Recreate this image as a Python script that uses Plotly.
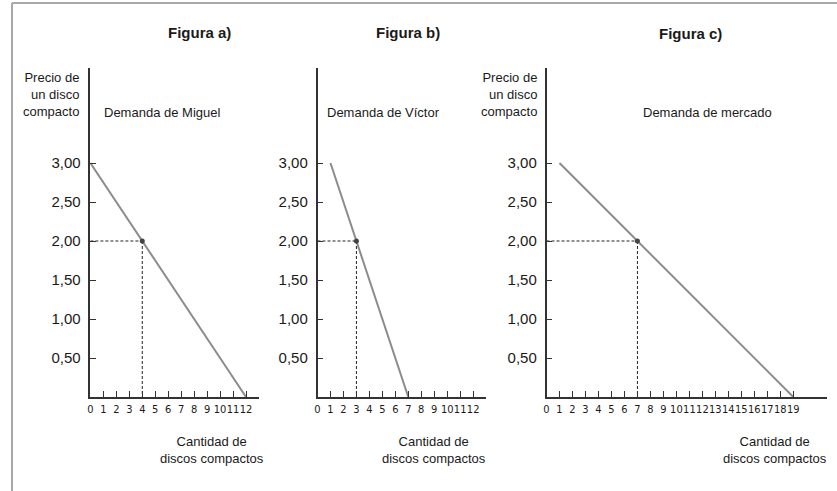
import plotly.graph_objects as go

# ---------------- data ----------------
prices = [3.0, 2.0, 0.0]
miguel_qty = [0, 4, 12]
victor_qty = [1, 3, 7]
market_qty = [1, 7, 19]
eq_price = 2.0
eq_qty = [4, 3, 7]

y_tickvals = [0, 0.5, 1.0, 1.5, 2.0, 2.5, 3.0]
y_ticktext = ["", "0,50", "1,00", "1,50", "2,00", "2,50", "3,00"]
x_ticks_ab = list(range(0, 13))
x_ticks_c = list(range(0, 20))

panel_titles = ["Figura a)", "Figura b)", "Figura c)"]
demand_labels = ["Demanda de Miguel", "Demanda de Víctor", "Demanda de mercado"]
y_title = "Precio de<br>un disco<br>compacto"
x_title = "Cantidad de<br>discos compactos"

W, H = 837, 491
def px(x):
    return x / W
def py(y):
    return 1 - y / H

LINE_COL = "#8c8c8c"
AX_COL = "#333333"
TXT = "#1a1a1a"
FONT = "Liberation Sans, Arial, sans-serif"
NARROW = "Liberation Sans Narrow, DejaVu Sans Condensed, Liberation Sans, sans-serif"

fig = go.Figure()

series = [miguel_qty, victor_qty, market_qty]
suffix = ["", "2", "3"]
for i, (qs, sfx) in enumerate(zip(series, suffix)):
    xa = "x" + sfx
    ya = "y" + sfx
    fig.add_trace(go.Scatter(x=qs, y=prices, mode="lines",
                             line=dict(color=LINE_COL, width=2),
                             xaxis=xa, yaxis=ya, hoverinfo="skip"))
    fig.add_trace(go.Scatter(x=[0, eq_qty[i]], y=[eq_price, eq_price], mode="lines",
                             line=dict(color="#222", width=1, dash="3px,2px"),
                             xaxis=xa, yaxis=ya, hoverinfo="skip"))
    fig.add_trace(go.Scatter(x=[eq_qty[i], eq_qty[i]], y=[eq_price, 0], mode="lines",
                             line=dict(color="#222", width=1, dash="3px,2px"),
                             xaxis=xa, yaxis=ya, hoverinfo="skip"))
    fig.add_trace(go.Scatter(x=[eq_qty[i]], y=[eq_price], mode="markers",
                             marker=dict(color="#444", size=5),
                             xaxis=xa, yaxis=ya, hoverinfo="skip"))

ydom = [py(397), py(68)]
yrange = [0, (397 - 68) / 78.0]

def xaxis_cfg(dom, rng, ticks, anchor):
    return dict(domain=dom, range=rng, anchor=anchor, showline=True, linecolor=AX_COL,
                linewidth=1.5, showgrid=False, zeroline=False, ticks="inside", ticklen=6,
                tickcolor=AX_COL, tickwidth=1.2, tickangle=0, automargin=False,
                tickvals=ticks, ticktext=[str(t) for t in ticks],
                tickfont=dict(family=NARROW, size=11, color=TXT),
                ticklabelstandoff=1, fixedrange=True)

def yaxis_cfg(anchor):
    return dict(domain=ydom, range=yrange, anchor=anchor, showline=True,
                linecolor=AX_COL, linewidth=1.5, showgrid=False, zeroline=False,
                ticks="inside", ticklen=6, tickcolor=AX_COL, tickwidth=1.2,
                tickvals=y_tickvals, ticktext=y_ticktext, automargin=False,
                tickfont=dict(family=FONT, size=15, color=TXT),
                ticklabelstandoff=5, fixedrange=True)

fig.update_layout(
    width=W, height=H,
    margin=dict(l=0, r=0, t=0, b=0, autoexpand=False),
    paper_bgcolor="white", plot_bgcolor="white",
    showlegend=False,
    xaxis=xaxis_cfg([px(90.4), px(259)], [0, (259 - 90.4) / 12.97], x_ticks_ab, "y"),
    xaxis2=xaxis_cfg([px(317.5), px(486)], [0, (486 - 317.5) / 12.97], x_ticks_ab, "y2"),
    xaxis3=xaxis_cfg([px(546.5), px(827)], [0, (827 - 546.5) / 12.99], x_ticks_c, "y3"),
    yaxis=yaxis_cfg("x"),
    yaxis2=yaxis_cfg("x2"),
    yaxis3=yaxis_cfg("x3"),
)

ann = []
for cx, cy, t in zip([199, 408, 690], [33, 33, 34], panel_titles):
    ann.append(dict(x=px(cx), y=py(cy), text="<b>" + t + "</b>", showarrow=False,
                    xref="paper", yref="paper", xanchor="center", yanchor="middle",
                    font=dict(family=FONT, size=15, color=TXT)))
for cx, t in zip([162, 383, 707], demand_labels):
    ann.append(dict(x=px(cx), y=py(112), text=t, showarrow=False,
                    xref="paper", yref="paper", xanchor="center", yanchor="middle",
                    font=dict(family=FONT, size=13, color=TXT)))
for rx in [81, 539]:
    ann.append(dict(x=px(rx), y=py(95), text=y_title, showarrow=False,
                    xref="paper", yref="paper", xanchor="right", yanchor="middle",
                    align="right",
                    font=dict(family=FONT, size=13, color=TXT)))
for cx in [212, 434, 775]:
    ann.append(dict(x=px(cx), y=py(450), text=x_title, showarrow=False,
                    xref="paper", yref="paper", xanchor="center", yanchor="middle",
                    align="center",
                    font=dict(family=FONT, size=13, color=TXT)))
fig.update_layout(annotations=ann)

fig.update_layout(shapes=[
    dict(type="line", xref="paper", yref="paper", x0=px(12), x1=1.0, y0=py(3), y1=py(3),
         line=dict(color="#a8a8a8", width=2)),
    dict(type="line", xref="paper", yref="paper", x0=px(12), x1=px(12), y0=py(3), y1=0,
         line=dict(color="#a8a8a8", width=2)),
])

fig.write_html("out.html", config={"displayModeBar": False, "responsive": False},
               post_script="document.body.style.margin='0';document.body.style.padding='0';document.body.style.overflow='hidden';")
